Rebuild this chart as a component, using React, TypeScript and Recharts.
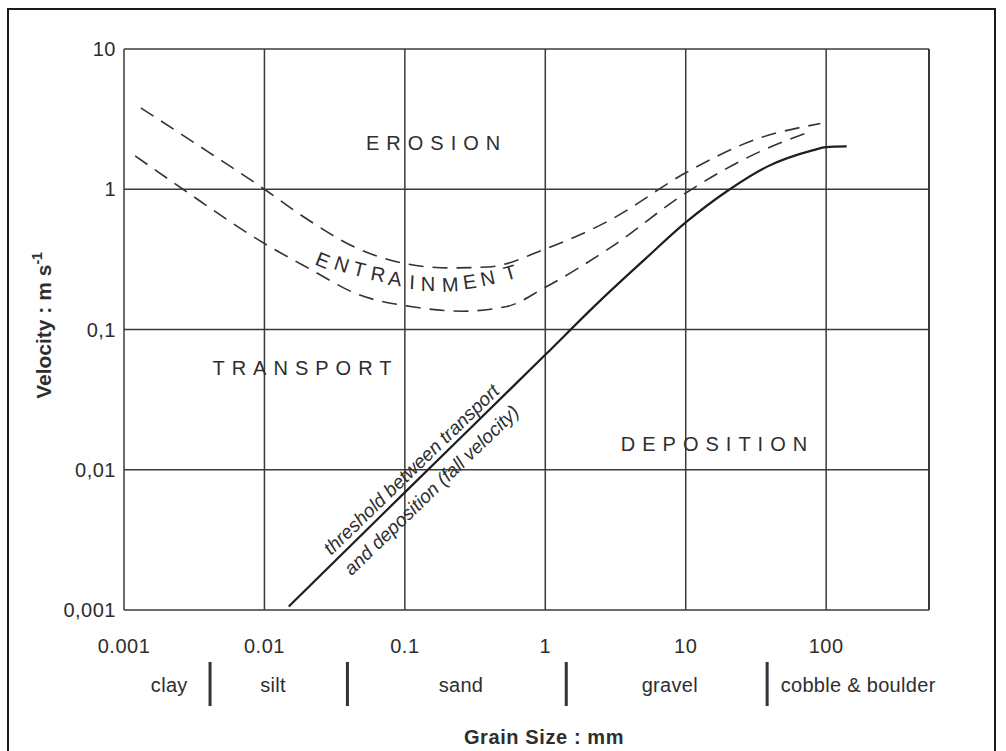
import { CartesianGrid, ComposedChart, Line, ReferenceLine, Scatter, XAxis, YAxis } from "recharts"

const FONT = '"Liberation Sans", Arial, Helvetica, sans-serif'
const INK = "#2e2e2e"
const GRID = "#3a3a3a"

const X_MIN = 0.001
const X_MAX = 540
const Y_MIN = 0.001
const Y_MAX = 10

// axes
const gridX = [0.001, 0.01, 0.1, 1, 10, 100]
const gridXLabels = ["0.001", "0.01", "0.1", "1", "10", "100"]
const gridY = [0.001, 0.01, 0.1, 1, 10]
const gridYLabels = ["0,001", "0,01", "0,1", "1", "10"]

// grain size classes (mm): boundaries and where the names sit
const classBounds = [0.0041, 0.039, 1.41, 38]
const classNames = [
  { at: 0.0021, name: "clay" },
  { at: 0.0115, name: "silt" },
  { at: 0.251, name: "sand" },
  { at: 7.7, name: "gravel" },
  { at: 169, name: "cobble & boulder" },
]

// curves: g = grain size (mm), v = velocity (m/s)
const erosionUpper = [
  { g: 0.00132, v: 3.8 },
  { g: 0.004, v: 1.84 },
  { g: 0.01, v: 1.0 },
  { g: 0.0184, v: 0.65 },
  { g: 0.047, v: 0.375 },
  { g: 0.099, v: 0.296 },
  { g: 0.206, v: 0.275 },
  { g: 0.39, v: 0.279 },
  { g: 1, v: 0.375 },
  { g: 2.87, v: 0.6 },
  { g: 10, v: 1.31 },
  { g: 32, v: 2.28 },
  { g: 91, v: 2.94 },
]

const entrainLower = [
  { g: 0.0012, v: 1.73 },
  { g: 0.00263, v: 1.0 },
  { g: 0.01, v: 0.41 },
  { g: 0.0204, v: 0.275 },
  { g: 0.047, v: 0.177 },
  { g: 0.11, v: 0.146 },
  { g: 0.255, v: 0.135 },
  { g: 0.533, v: 0.146 },
  { g: 1, v: 0.2 },
  { g: 2.87, v: 0.38 },
  { g: 10, v: 0.94 },
  { g: 32, v: 1.81 },
  { g: 76, v: 2.56 },
]

const fallVelocity = [
  { g: 0.0149, v: 0.00106 },
  { g: 0.1, v: 0.0069 },
  { g: 1, v: 0.066 },
  { g: 2.45, v: 0.16 },
  { g: 5, v: 0.31 },
  { g: 10, v: 0.58 },
  { g: 20, v: 0.98 },
  { g: 38, v: 1.45 },
  { g: 81, v: 1.9 },
  { g: 100, v: 2.0 },
  { g: 140, v: 2.02 },
]

// text placed in data space
const regionNotes = [
  { g: 0.159, v: 1.905, label: "EROSION" },
  { g: 0.0185, v: 0.0474, label: "TRANSPORT" },
  { g: 15.9, v: 0.0136, label: "DEPOSITION" },
]

const entrainLetters = [
  { g: 0.0261, v: 0.313, ch: "E" },
  { g: 0.0356, v: 0.293, ch: "N" },
  { g: 0.0474, v: 0.27, ch: "T" },
  { g: 0.0644, v: 0.249, ch: "R" },
  { g: 0.0851, v: 0.231, ch: "A" },
  { g: 0.1125, v: 0.218, ch: "I" },
  { g: 0.146, v: 0.211, ch: "N" },
  { g: 0.21, v: 0.21, ch: "M" },
  { g: 0.289, v: 0.22, ch: "E" },
  { g: 0.389, v: 0.233, ch: "N" },
  { g: 0.56, v: 0.255, ch: "T" },
]
const entrainTilt = [22, 18, 14, 10, 7, 3, 0, -3, -8, -12, -16]

const thresholdNotes = [
  { g: 0.1107, v: 0.0101, label: "threshold between transport" },
  { g: 0.1538, v: 0.00718, label: "and deposition (fall velocity)" },
]

const textStyle = { fontFamily: FONT, fill: INK }

function XTick({ x, y, index }: any) {
  return (
    <text x={x} y={y + 43} textAnchor="middle" fontSize={20} letterSpacing={0.5} style={textStyle}>
      {gridXLabels[index]}
    </text>
  )
}

function YTick({ x, y, index }: any) {
  return (
    <text x={x - 8} y={y + 7} textAnchor="end" fontSize={20} letterSpacing={0.5} style={textStyle}>
      {gridYLabels[index]}
    </text>
  )
}

const classTicks = [...classBounds, ...classNames.map((c) => c.at)].sort((a, b) => a - b)

function ClassTick({ x, y, payload }: any) {
  const v = payload.value
  if (classBounds.includes(v)) {
    return <rect x={x - 1.5} y={y + 22} width={3} height={44} fill="#333" />
  }
  const c = classNames.find((n) => n.at === v)
  return (
    <text x={x} y={y + 52} textAnchor="middle" fontSize={20} letterSpacing={0.3} style={textStyle}>
      {c ? c.name : ""}
    </text>
  )
}

function RegionShape({ cx, cy, payload }: any) {
  return (
    <text x={cx} y={cy} dx={3.5} textAnchor="middle" fontSize={20} letterSpacing={7} style={textStyle}>
      {payload.label}
    </text>
  )
}

function LetterShape({ cx, cy, payload }: any) {
  const i = entrainLetters.findIndex((l) => l.g === payload.g)
  const a = entrainTilt[i] ?? 0
  return (
    <text
      x={cx}
      y={cy}
      dy="0.36em"
      textAnchor="middle"
      fontSize={20}
      transform={`rotate(${a} ${cx} ${cy})`}
      style={textStyle}
    >
      {payload.ch}
    </text>
  )
}

function ThresholdShape({ cx, cy, payload }: any) {
  return (
    <text
      x={cx}
      y={cy}
      dy="0.36em"
      textAnchor="middle"
      fontSize={19}
      fontStyle="italic"
      transform={`rotate(-44 ${cx} ${cy})`}
      style={textStyle}
    >
      {payload.label}
    </text>
  )
}

function VelocityLabel({ viewBox }: any) {
  const x = viewBox.x - 13
  const y = viewBox.y + viewBox.height / 2 - 4
  return (
    <text
      x={x}
      y={y}
      textAnchor="middle"
      fontSize={21}
      fontWeight="bold"
      transform={`rotate(-90 ${x} ${y})`}
      style={textStyle}
    >
      Velocity : m s
      <tspan dy={-9} fontSize={14}>
        -1
      </tspan>
    </text>
  )
}

function GrainLabel({ viewBox }: any) {
  return (
    <text
      x={viewBox.x + 420}
      y={viewBox.y + 104}
      textAnchor="middle"
      fontSize={20}
      fontWeight="bold"
      letterSpacing={0.6}
      style={textStyle}
    >
      Grain Size : mm
    </text>
  )
}

export default function App() {
  return (
    <div style={{ position: "absolute", left: 0, top: 0, width: 1006, height: 751, background: "#fff", overflow: "hidden" }}>
      <ComposedChart
        width={1006}
        height={751}
        margin={{ top: 49, right: 77, left: 64, bottom: 31 }}
      >
        <CartesianGrid stroke={GRID} strokeWidth={1.5} />
        <XAxis
          dataKey="g"
          type="number"
          scale="log"
          domain={[X_MIN, X_MAX]}
          allowDataOverflow
          ticks={gridX}
          interval={0}
          height={30}
          axisLine={false}
          tickLine={false}
          tickSize={0}
          tickMargin={0}
          tick={<XTick />}
        />
        <XAxis
          xAxisId="classes"
          dataKey="g"
          type="number"
          scale="log"
          domain={[X_MIN, X_MAX]}
          allowDataOverflow
          ticks={classTicks}
          interval={0}
          height={80}
          axisLine={false}
          tickLine={false}
          tickSize={0}
          tickMargin={0}
          tick={<ClassTick />}
          label={<GrainLabel />}
        />
        <YAxis
          dataKey="v"
          type="number"
          scale="log"
          domain={[Y_MIN, Y_MAX]}
          allowDataOverflow
          ticks={gridY}
          interval={0}
          width={60}
          axisLine={false}
          tickLine={false}
          tickSize={0}
          tickMargin={0}
          tick={<YTick />}
          label={<VelocityLabel />}
        />
        <ReferenceLine x={X_MAX} stroke={GRID} strokeWidth={2} />
        <Line
          data={erosionUpper}
          dataKey="v"
          type="monotone"
          stroke="#333"
          strokeWidth={1.6}
          strokeDasharray="15 9"
          dot={false}
          activeDot={false}
          isAnimationActive={false}
        />
        <Line
          data={entrainLower}
          dataKey="v"
          type="monotone"
          stroke="#333"
          strokeWidth={1.6}
          strokeDasharray="15 9"
          dot={false}
          activeDot={false}
          isAnimationActive={false}
        />
        <Line
          data={fallVelocity}
          dataKey="v"
          type="monotone"
          stroke="#1e1e1e"
          strokeWidth={2.2}
          dot={false}
          activeDot={false}
          isAnimationActive={false}
        />
        <Scatter data={regionNotes} dataKey="v" shape={<RegionShape />} isAnimationActive={false} />
        <Scatter data={entrainLetters} dataKey="v" shape={<LetterShape />} isAnimationActive={false} />
        <Scatter data={thresholdNotes} dataKey="v" shape={<ThresholdShape />} isAnimationActive={false} />
      </ComposedChart>
      <div
        style={{
          position: "absolute",
          left: 7,
          top: 8,
          width: 989,
          height: 800,
          boxSizing: "border-box",
          border: "2px solid #1a1a1a",
          pointerEvents: "none",
        }}
      />
    </div>
  )
}
